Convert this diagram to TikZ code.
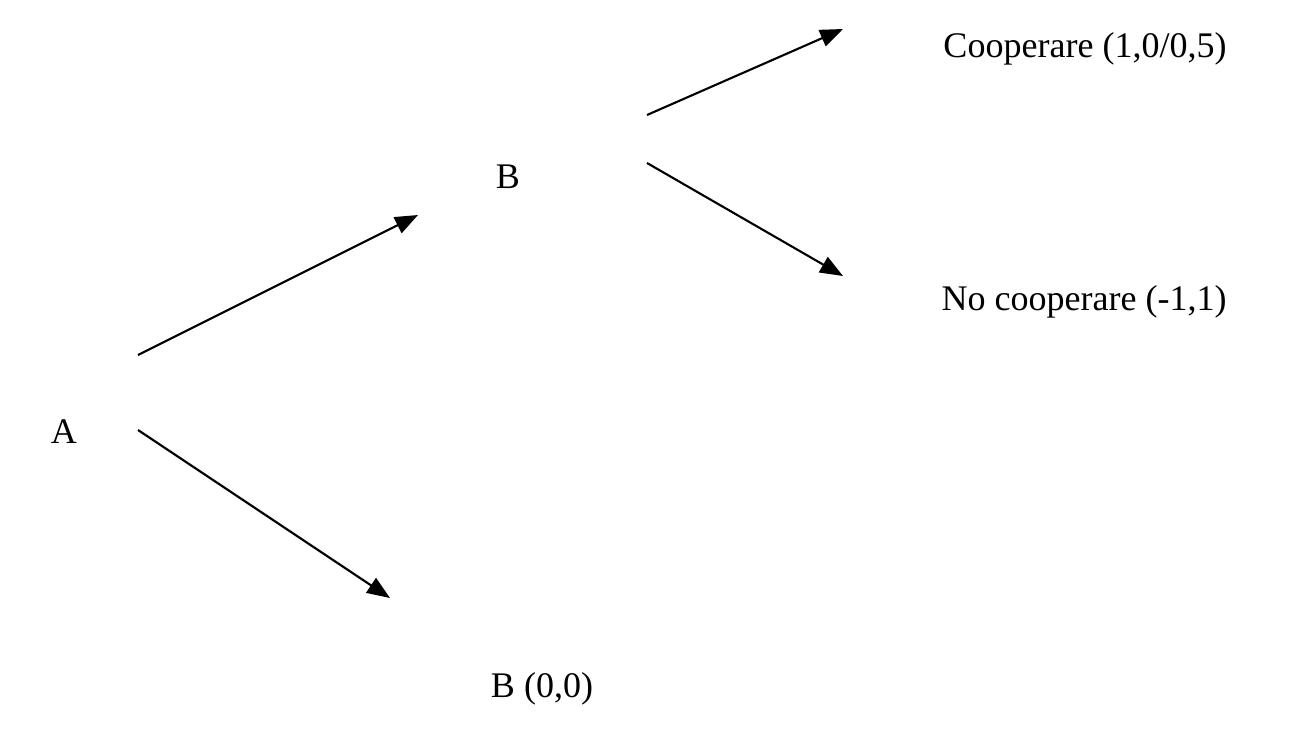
\documentclass[tikz,border=0pt]{standalone}
\usepackage{fontspec}
\setmainfont{Liberation Serif}
\usetikzlibrary{arrows.meta}
\begin{document}
\begin{tikzpicture}[x=0.02cm,y=-0.02cm,
  lbl/.style={inner sep=0pt,font=\fontsize{20.5}{24}\selectfont},
  arr/.style={line width=1.2pt,-{Triangle[length=13pt,width=10pt]}}]
\useasboundingbox[fill=white] (0,0) rectangle (1300,734);
\node[lbl] (a) at (64,432) {A};
\node[lbl] (b) at (508,177) {B};
\node[lbl] (b0) at (542,689) {B (0,0)};
\node[lbl] (c) at (1085,49) {Cooperare (1,0/0,5)};
\node[lbl] (nc) at (1084,302) {No cooperare (-1,1)};
\coordinate (a1) at (138,355);
\coordinate (a1e) at (418,215);
\coordinate (a2) at (138,430);
\coordinate (a2e) at (390,598);
\coordinate (b1) at (647,115);
\coordinate (b1e) at (843,29);
\coordinate (b2) at (647,163);
\coordinate (b2e) at (843,276);
\draw[arr] (a1) -- (a1e);
\draw[arr] (a2) -- (a2e);
\draw[arr] (b1) -- (b1e);
\draw[arr] (b2) -- (b2e);
\end{tikzpicture}
\end{document}
